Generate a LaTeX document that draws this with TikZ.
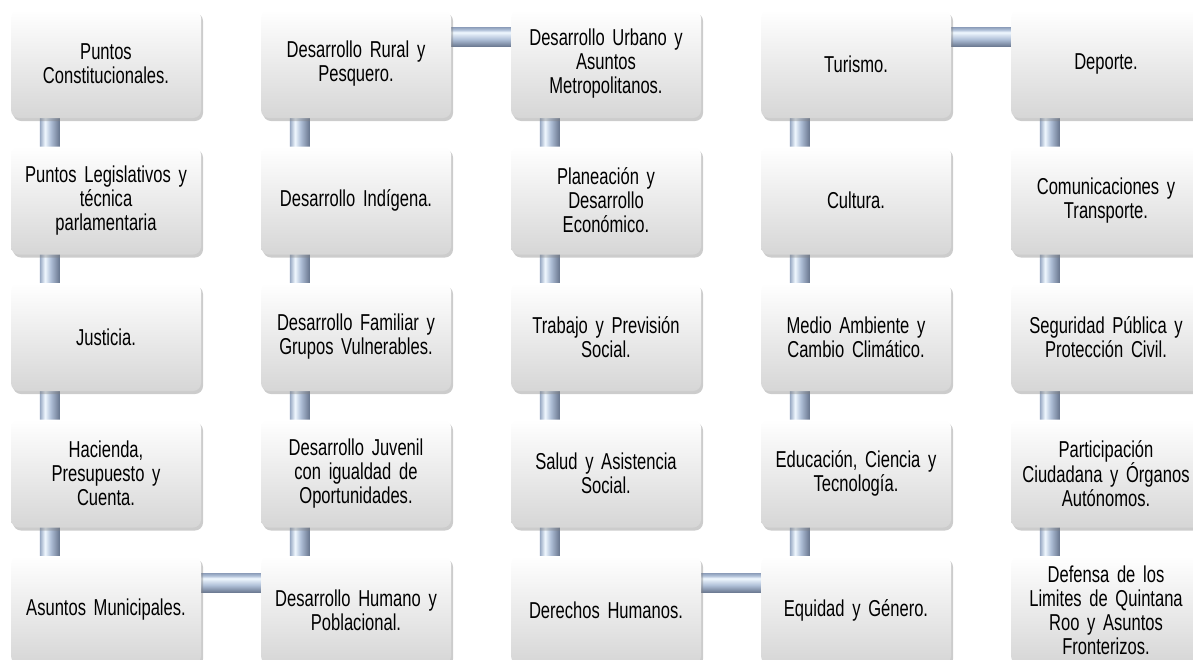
\documentclass[tikz,border=0pt]{standalone}
\usepackage{fontspec}
\setmainfont{Liberation Sans}[FakeStretch=0.72]
\usepackage{tikz}
\usetikzlibrary{shadows,backgrounds}

\definecolor{pipedark}{HTML}{66748C}
\definecolor{pipemid}{HTML}{B0C0D8}
\definecolor{pipelight}{HTML}{F0F8FF}
\definecolor{pipeedge}{HTML}{96A7C2}
\definecolor{boxbottom}{HTML}{D6D6D6}

\pgfdeclareverticalshading{hpipeshade}{100bp}{color(0bp)=(pipedark); color(25bp)=(pipedark); color(45bp)=(pipemid); color(63bp)=(pipelight); color(70bp)=(pipemid); color(75bp)=(pipeedge); color(100bp)=(pipeedge)}
\pgfdeclarehorizontalshading{vpipeshade}{100bp}{color(0bp)=(pipeedge); color(25bp)=(pipeedge); color(38bp)=(pipelight); color(52bp)=(pipemid); color(75bp)=(pipedark); color(100bp)=(pipedark)}

\newcommand{\boxfont}{\fontsize{23}{24}\selectfont\spaceskip=2.6pt\relax}

\tikzset{
  comision/.style={rounded corners=8pt, top color=white, bottom color=boxbottom,
    minimum width=190pt, minimum height=108pt, text width=178pt, align=center,
    inner sep=0pt, font=\boxfont,
    drop shadow={shadow xshift=2pt, shadow yshift=-3pt, opacity=0.4}},
  hpipe/.style={shading=hpipeshade},
  vpipe/.style={shading=vpipeshade}
}

\begin{document}
\begin{tikzpicture}[x=1pt, y=-1pt]
        \useasboundingbox (0,0) rectangle (1193,659);
        \node (a1) at (106, 64) [comision] {Puntos\\Constitucionales.};
        \node (a2) at (106, 200.5) [comision] {Puntos Legislativos y\\técnica\\parlamentaria};
        \node (a3) at (106, 337) [comision] {Justicia.};
        \node (a4) at (106, 473.5) [comision] {Hacienda,\\Presupuesto y\\Cuenta.};
        \node (a5) at (106, 610) [comision] {Asuntos Municipales.};
        \node (b1) at (356, 64) [comision] {Desarrollo Rural y\\Pesquero.};
        \node (b2) at (356, 200.5) [comision] {Desarrollo Indígena.};
        \node (b3) at (356, 337) [comision] {Desarrollo Familiar y\\Grupos Vulnerables.};
        \node (b4) at (356, 473.5) [comision] {Desarrollo Juvenil\\con igualdad de\\Oportunidades.};
        \node (b5) at (356, 610) [comision] {Desarrollo Humano y\\Poblacional.};
        \node (c1) at (606, 64) [comision] {Desarrollo Urbano y\\Asuntos\\Metropolitanos.};
        \node (c2) at (606, 200.5) [comision] {Planeación y\\Desarrollo\\Económico.};
        \node (c3) at (606, 337) [comision] {Trabajo y Previsión\\Social.};
        \node (c4) at (606, 473.5) [comision] {Salud y Asistencia\\Social.};
        \node (c5) at (606, 610) [comision] {Derechos Humanos.};
        \node (d1) at (856, 64) [comision] {Turismo.};
        \node (d2) at (856, 200.5) [comision] {Cultura.};
        \node (d3) at (856, 337) [comision] {Medio Ambiente y\\Cambio Climático.};
        \node (d4) at (856, 473.5) [comision] {Educación, Ciencia y\\Tecnología.};
        \node (d5) at (856, 610) [comision] {Equidad y Género.};
        \node (e1) at (1106, 64) [comision] {Deporte.};
        \node (e2) at (1106, 200.5) [comision] {Comunicaciones y\\Transporte.};
        \node (e3) at (1106, 337) [comision] {Seguridad Pública y\\Protección Civil.};
        \node (e4) at (1106, 473.5) [comision] {Participación\\Ciudadana y Órganos\\Autónomos.};
        \node (e5) at (1106, 610) [comision] {Defensa de los\\Limites de Quintana\\Roo y Asuntos\\Fronterizos.};
        \begin{scope}[on background layer]
        \foreach \col in {a,b,c,d,e}
          \foreach \up/\down in {1/2,2/3,3/4,4/5}
            \fill [vpipe] ([xshift=29pt]\col\up.south west) rectangle ([xshift=49pt]\col\down.north west);
        \fill [hpipe] ([yshift=-18pt]a5.north east) rectangle ([yshift=-37pt]b5.north west);
        \fill [hpipe] ([yshift=-18pt]b1.north east) rectangle ([yshift=-37pt]c1.north west);
        \fill [hpipe] ([yshift=-18pt]c5.north east) rectangle ([yshift=-37pt]d5.north west);
        \fill [hpipe] ([yshift=-18pt]d1.north east) rectangle ([yshift=-37pt]e1.north west);
        \end{scope}
    \end{tikzpicture}
\end{document}
